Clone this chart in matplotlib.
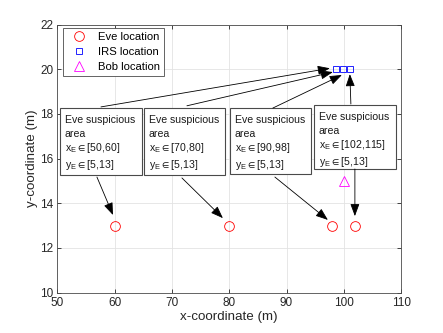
import matplotlib
matplotlib.use("Agg")
import matplotlib.pyplot as plt
from matplotlib.patches import Rectangle

plt.rcParams['font.family'] = ['Liberation Sans', 'DejaVu Sans']
plt.rcParams['mathtext.default'] = 'regular'

# Data
eve_x = [60, 80, 98, 102]
eve_y = [13, 13, 13, 13]
irs_x = [98.7, 99.8, 101.1]
irs_y = [20, 20, 20]
bob_x = [100]
bob_y = [15]
x_ranges = ["[50,60]", "[70,80]", "[90,98]", "[102,115]"]
y_ranges = ["[5,13]", "[5,13]", "[5,13]", "[5,13]"]
xticks = [50, 60, 70, 80, 90, 100, 110]
yticks = [10, 12, 14, 16, 18, 20, 22]

# Annotation layout (data coords): boxes [x0, x1, y_bottom, y_top]
boxes = [(50.47, 64.77, 15.26, 18.26),
         (65.12, 79.24, 15.26, 18.26),
         (80.12, 94.25, 15.31, 18.26),
         (94.77, 109.07, 15.53, 18.40)]
line_offsets = [0.67, 1.30, 1.93, 2.70]   # baseline offsets from box top
up_arrows = [((57.62, 18.31), (97.57, 20.04)),
             ((72.62, 18.36), (98.09, 19.87)),
             ((87.62, 18.26), (99.66, 19.74)),
             ((101.23, 18.44), (101.05, 19.78))]
down_arrows = [((56.92, 15.17), (59.72, 13.47)),
               ((71.75, 15.13), (78.90, 13.33)),
               ((87.97, 15.17), (97.22, 13.25)),
               ((101.93, 15.53), (101.93, 13.42))]

fig = plt.figure(figsize=(4.43, 3.33), dpi=100)
ax = fig.add_axes([0.1293, 0.1216, 0.7762, 0.8048])

fs = 7.6
ax.plot(eve_x, eve_y, 'o', ms=7, mfc='none', mec='#ff0000', mew=0.6, label='Eve location', zorder=5)
ax.plot(irs_x, irs_y, 's', ms=5, mfc='none', mec='#0000ff', mew=0.6, label='IRS location', zorder=5)
ax.plot(bob_x, bob_y, '^', ms=7, mfc='none', mec='#ff00ff', mew=0.6, label='Bob location', zorder=5)

ax.set_xlim(50, 110)
ax.set_ylim(10, 22)
ax.set_xticks(xticks)
ax.set_yticks(yticks)
ax.grid(True, color='#e3e3e3', lw=0.6)
ax.set_axisbelow(True)
for s in ax.spines.values():
    s.set_color('#4a4a4a')
    s.set_linewidth(0.6)
ax.tick_params(direction='in', length=3, width=0.6, colors='#262626', labelsize=8.5,
               top=True, right=True, pad=3)
ax.set_xlabel('x-coordinate (m)', fontsize=9.6, color='#262626', labelpad=2)
ax.set_ylabel('y-coordinate (m)', fontsize=9.6, color='#262626', labelpad=1)

for (x0, x1, yb, yt), xr, yr in zip(boxes, x_ranges, y_ranges):
    ax.add_patch(Rectangle((x0, yb), x1 - x0, yt - yb, facecolor='white',
                           edgecolor='#4a4a4a', lw=0.8, zorder=3))
    lines = ["Eve suspicious", "area", "$x_E\\in$" + xr, "$y_E\\in$" + yr]
    for ln, off in zip(lines, line_offsets):
        ax.text(x0 + 0.85, yt - off, ln, fontsize=fs, va='baseline', ha='left',
                color='#1a1a1a', zorder=4)

for (s, e) in up_arrows + down_arrows:
    ax.annotate('', xy=e, xytext=s,
                arrowprops=dict(arrowstyle='-|>,head_length=0.75,head_width=0.28',
                                color='black', lw=0.6, shrinkA=0, shrinkB=0),
                zorder=6)

leg = ax.legend(loc='upper left', bbox_to_anchor=(0.0166, 0.987), borderaxespad=0,
                fontsize=8.1, frameon=True, fancybox=False, framealpha=1,
                edgecolor='#4a4a4a', borderpad=0.35, labelspacing=0.45,
                handlelength=2.2, handletextpad=0.55)
leg.get_frame().set_linewidth(0.6)

fig.savefig('out.png', dpi=100)
